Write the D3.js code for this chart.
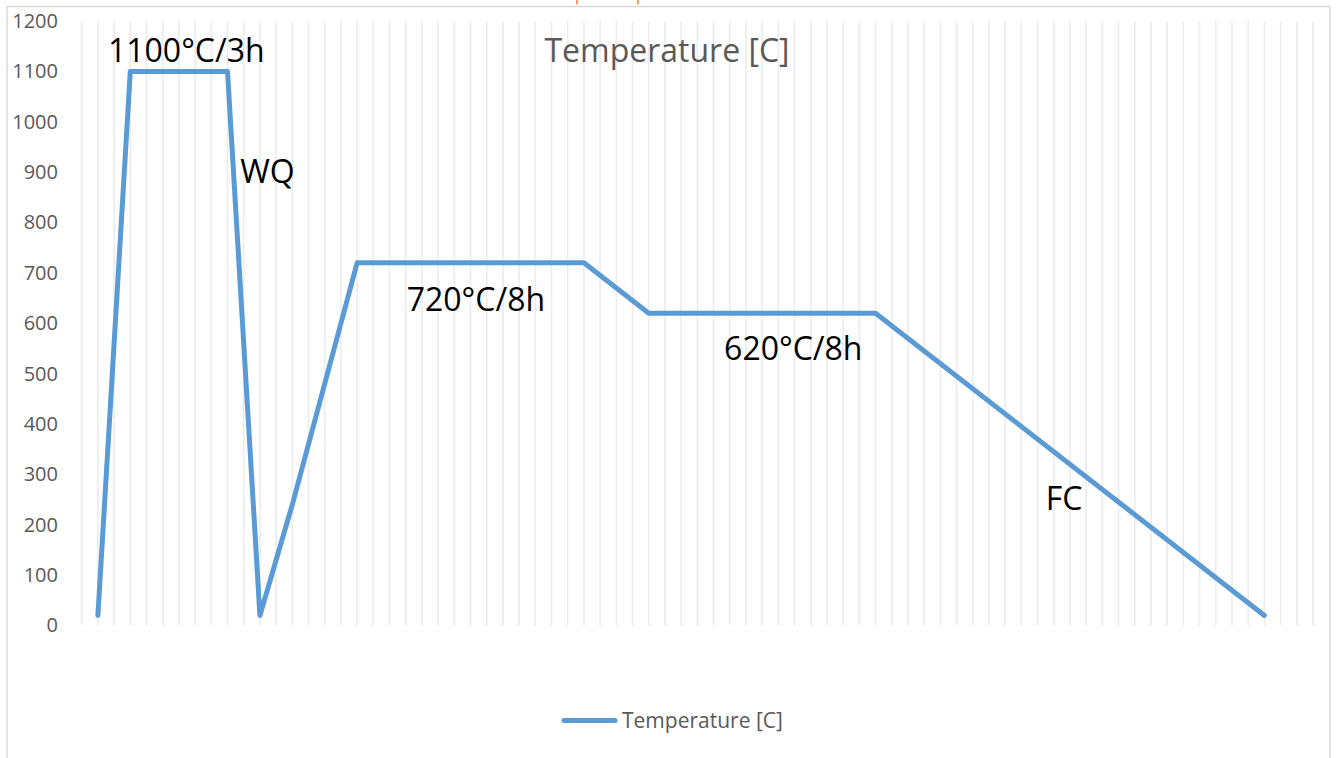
<!DOCTYPE html>
<html>
<head>
<meta charset="utf-8">
<script src="https://cdn.jsdelivr.net/npm/d3@7"></script>
<style>
  body { margin: 0; background: #fff; }
  svg { display: block; font-family: "Open Sans", sans-serif; }
</style>
</head>
<body>
<div id="chart"></div>
<script>
// heat treatment schedule, x = time step (category index), y = temperature
const steps = [1, 3, 9, 11, 13, 17, 31, 35, 49, 73];
const temperatures = [20, 1100, 1100, 20, 240, 720, 720, 620, 620, 20];
const yTicks = [0, 100, 200, 300, 400, 500, 600, 700, 800, 900, 1000, 1100, 1200];
const stepCount = 76;

// annotations placed in data coordinates
const noteTexts = ["1100°C/3h", "WQ", "720°C/8h", "620°C/8h", "FC"];
const noteSteps = [1.62, 9.78, 20.06, 39.65, 59.5];
const noteTemps = [1118, 878, 625, 527, 229];

const seriesName = "Temperature [C]";

const width = 1338, height = 758;
const margin = { left: 81.7, right: 25, top: 21, bottom: 132.5 };

let svg = d3.select("#chart").append("svg")
  .attr("width", width)
  .attr("height", height);

// chart frame
svg.append("rect")
  .attr("x", 7).attr("y", 6.5)
  .attr("width", 1323).attr("height", 800)
  .attr("fill", "#fff")
  .attr("stroke", "#d9d9d9")
  .attr("stroke-width", 1.5);

// little orange marks peeking in at the top
svg.selectAll(".mark").data([577, 638]).enter().append("line")
  .attr("x1", d => d).attr("x2", d => d)
  .attr("y1", 0).attr("y2", 4.5)
  .attr("stroke", "#ed7d31").attr("stroke-width", 1.5);

let x = d3.scaleLinear().domain([0, stepCount]).range([margin.left, width - margin.right]);
let y = d3.scaleLinear().domain([0, 1200]).range([height - margin.bottom, margin.top]);

// vertical gridlines at each category
svg.append("g").selectAll("line")
  .data(d3.range(0, stepCount + 1))
  .enter().append("line")
  .attr("x1", d => x(d)).attr("x2", d => x(d))
  .attr("y1", y(1200)).attr("y2", y(0))
  .attr("stroke", "#ececec")
  .attr("stroke-width", 1.6);

// y axis labels
let yAxis = svg.append("g")
  .attr("transform", "translate(60,0)")
  .call(d3.axisLeft(y).tickValues(yTicks).tickFormat(d3.format("d")).tickSize(0).tickPadding(2));
yAxis.select(".domain").remove();
yAxis.selectAll("text")
  .attr("fill", "#595959")
  .style("font-size", "20px")
  .style("font-family", "'Open Sans', sans-serif");

// title
svg.append("text")
  .attr("x", 667).attr("y", 62)
  .attr("text-anchor", "middle")
  .attr("fill", "#595959")
  .style("font-size", "32px")
  .text(seriesName);

// the line
let data = steps.map((s, i) => ({ step: s, temp: temperatures[i] }));
let line = d3.line().x(d => x(d.step)).y(d => y(d.temp));
svg.append("path")
  .datum(data)
  .attr("d", line)
  .attr("fill", "none")
  .attr("stroke", "#5b9bd5")
  .attr("stroke-width", 5)
  .attr("stroke-linejoin", "round")
  .attr("stroke-linecap", "round");

// annotations
svg.append("g").selectAll("text")
  .data(noteTexts)
  .enter().append("text")
  .attr("x", (d, i) => x(noteSteps[i]))
  .attr("y", (d, i) => y(noteTemps[i]))
  .attr("fill", "#000")
  .style("font-size", "32px")
  .text(d => d);

// legend
let legend = svg.append("g");
legend.append("line")
  .attr("x1", 564).attr("x2", 615)
  .attr("y1", 720.5).attr("y2", 720.5)
  .attr("stroke", "#5b9bd5")
  .attr("stroke-width", 5)
  .attr("stroke-linecap", "round");
legend.append("text")
  .attr("x", 622).attr("y", 728)
  .attr("fill", "#595959")
  .style("font-size", "21px")
  .text(seriesName);
</script>
</body>
</html>
